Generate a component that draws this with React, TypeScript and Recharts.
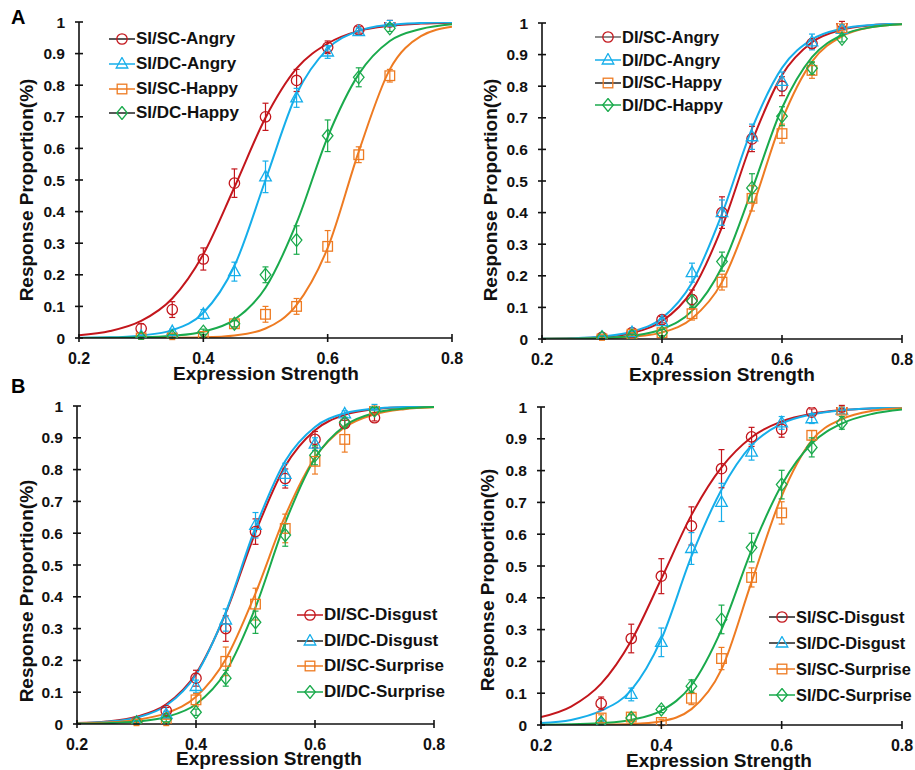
import React from "react";
import {
  ComposedChart,
  Line,
  Scatter,
  ErrorBar,
  XAxis,
  YAxis,
  Legend,
} from "recharts";

// expression strengths where responses were measured, and where the fitted curves were read
const xObs = [0.3, 0.35, 0.4, 0.45, 0.5, 0.55, 0.6, 0.65, 0.7];
const xFit = [0.2, 0.25, 0.3, 0.35, 0.4, 0.45, 0.5, 0.55, 0.6, 0.65, 0.7, 0.75, 0.8];
const yTicks = [0, 0.1, 0.2, 0.3, 0.4, 0.5, 0.6, 0.7, 0.8, 0.9, 1];
const xTicks = [0.2, 0.4, 0.6, 0.8];

// Panel A left: SI, angry / happy
const siScAngry = [0.03, 0.09, 0.25, 0.49, 0.7, 0.815, 0.92, 0.975, 1.0];
const siScAngryErr = [0.015, 0.025, 0.035, 0.045, 0.043, 0.035, 0.02, 0.01, 0.005];
const siScAngryFit = [0.009, 0.022, 0.054, 0.125, 0.265, 0.477, 0.697, 0.853, 0.932, 0.972, 0.988, 0.995, 0.998];
const siDcAngry = [0.005, 0.02, 0.075, 0.21, 0.51, 0.76, 0.905, 0.97, 1.0];
const siDcAngryErr = [0.004, 0.008, 0.015, 0.03, 0.05, 0.03, 0.02, 0.01, 0.005];
const siDcAngryFit = [0.001, 0.002, 0.008, 0.025, 0.08, 0.228, 0.5, 0.772, 0.915, 0.972, 0.991, 0.997, 0.999];
const siScHappy = [0.0, 0.0, 0.005, 0.045, 0.075, 0.1, 0.29, 0.58, 0.83];
const siScHappyErr = [0.004, 0.005, 0.005, 0.01, 0.025, 0.025, 0.05, 0.025, 0.02];
const siScHappyFit = [0.0, 0.0, 0.0002, 0.0006, 0.002, 0.008, 0.03, 0.105, 0.285, 0.59, 0.85, 0.955, 0.985];
const siDcHappy = [0.0, 0.005, 0.02, 0.045, 0.2, 0.31, 0.64, 0.825, 0.98];
const siDcHappyErr = [0.004, 0.005, 0.008, 0.01, 0.025, 0.045, 0.05, 0.03, 0.01];
const siDcHappyFit = [0.0002, 0.0007, 0.002, 0.007, 0.02, 0.058, 0.159, 0.364, 0.636, 0.835, 0.94, 0.978, 0.993];

// Panel A right: DI, angry / happy
const diScAngry = [0.005, 0.02, 0.061, 0.125, 0.4, 0.633, 0.8, 0.935, 1.0];
const diScAngryErr = [0.004, 0.005, 0.01, 0.03, 0.05, 0.04, 0.03, 0.015, 0.005];
const diScAngryFit = [0.0007, 0.002, 0.006, 0.019, 0.056, 0.153, 0.354, 0.625, 0.835, 0.939, 0.979, 0.993, 0.998];
const diDcAngry = [0.005, 0.02, 0.055, 0.21, 0.4, 0.64, 0.815, 0.94, 0.98];
const diDcAngryErr = [0.004, 0.005, 0.01, 0.03, 0.04, 0.04, 0.03, 0.025, 0.01];
const diDcAngryFit = [0.0008, 0.0025, 0.008, 0.023, 0.066, 0.178, 0.396, 0.666, 0.858, 0.948, 0.982, 0.994, 0.998];
const diScHappy = [0.0, 0.015, 0.02, 0.08, 0.18, 0.445, 0.65, 0.85, 0.985];
const diScHappyErr = [0.004, 0.005, 0.01, 0.02, 0.025, 0.04, 0.03, 0.025, 0.01];
const diScHappyFit = [0.0002, 0.0007, 0.002, 0.007, 0.021, 0.065, 0.18, 0.413, 0.693, 0.878, 0.958, 0.987, 0.996];
const diDcHappy = [0.005, 0.01, 0.02, 0.12, 0.245, 0.478, 0.705, 0.857, 0.95];
const diDcHappyErr = [0.004, 0.005, 0.01, 0.02, 0.03, 0.045, 0.03, 0.02, 0.01];
const diDcHappyFit = [0.0004, 0.001, 0.003, 0.01, 0.031, 0.089, 0.228, 0.472, 0.731, 0.892, 0.962, 0.987, 0.996];

// Panel B left: DI, disgust / surprise
const diScDisgust = [0.005, 0.042, 0.144, 0.3, 0.605, 0.772, 0.895, 0.945, 0.963];
const diScDisgustErr = [0.005, 0.01, 0.025, 0.04, 0.04, 0.03, 0.025, 0.01, 0.01];
const diScDisgustFit = [0.003, 0.008, 0.023, 0.062, 0.159, 0.349, 0.603, 0.811, 0.924, 0.972, 0.99, 0.996, 0.999];
const diDcDisgust = [0.005, 0.03, 0.118, 0.327, 0.625, 0.785, 0.88, 0.975, 1.0];
const diDcDisgustErr = [0.005, 0.01, 0.02, 0.035, 0.04, 0.035, 0.02, 0.01, 0.005];
const diDcDisgustFit = [0.0024, 0.007, 0.02, 0.058, 0.155, 0.352, 0.618, 0.827, 0.934, 0.977, 0.992, 0.997, 0.999];
const diScSurprise = [0.0, 0.0, 0.076, 0.197, 0.377, 0.615, 0.826, 0.895, 0.99];
const diScSurpriseErr = [0.005, 0.005, 0.02, 0.045, 0.05, 0.045, 0.04, 0.04, 0.01];
const diScSurpriseFit = [0.0017, 0.0047, 0.013, 0.034, 0.086, 0.204, 0.411, 0.655, 0.838, 0.933, 0.974, 0.99, 0.996];
const diDcSurprise = [0.005, 0.015, 0.037, 0.144, 0.32, 0.594, 0.845, 0.948, 0.986];
const diDcSurpriseErr = [0.005, 0.008, 0.01, 0.025, 0.035, 0.035, 0.03, 0.015, 0.01];
const diDcSurpriseFit = [0.0009, 0.0025, 0.0075, 0.022, 0.062, 0.164, 0.367, 0.633, 0.836, 0.938, 0.978, 0.992, 0.997];

// Panel B right: SI, disgust / surprise
const siScDisgust = [0.068, 0.272, 0.468, 0.626, 0.806, 0.906, 0.93, 0.984, 1.0];
const siScDisgustErr = [0.02, 0.045, 0.055, 0.06, 0.06, 0.03, 0.025, 0.01, 0.005];
const siScDisgustFit = [0.025, 0.058, 0.13, 0.265, 0.46, 0.66, 0.81, 0.905, 0.955, 0.979, 0.99, 0.995, 0.998];
const siDcDisgust = [0.005, 0.096, 0.26, 0.555, 0.7, 0.858, 0.95, 0.963, 0.99];
const siDcDisgustErr = [0.005, 0.02, 0.045, 0.05, 0.06, 0.025, 0.02, 0.015, 0.01];
const siDcDisgustFit = [0.006, 0.016, 0.045, 0.11, 0.27, 0.53, 0.74, 0.88, 0.948, 0.977, 0.99, 0.996, 0.998];
const siScSurprise = [0.022, 0.025, 0.008, 0.084, 0.209, 0.464, 0.667, 0.911, 0.99];
const siScSurpriseErr = [0.01, 0.01, 0.01, 0.02, 0.035, 0.03, 0.035, 0.015, 0.01];
const siScSurpriseFit = [0.0, 0.0, 0.001, 0.003, 0.012, 0.05, 0.175, 0.45, 0.72, 0.895, 0.962, 0.988, 0.996];
const siDcSurprise = [0.008, 0.022, 0.049, 0.122, 0.332, 0.558, 0.756, 0.873, 0.95];
const siDcSurpriseErr = [0.005, 0.01, 0.01, 0.02, 0.045, 0.045, 0.045, 0.03, 0.02];
const siDcSurpriseFit = [0.001, 0.002, 0.006, 0.016, 0.045, 0.125, 0.3, 0.55, 0.755, 0.885, 0.948, 0.978, 0.992];

const RED = "#c3161c";
const BLUE = "#16aeea";
const ORANGE = "#ee7b22";
const GREEN = "#1aaa4c";
const DARK = "#222";
const GRAY = "#666";
const FONT = "'Liberation Sans', Arial, sans-serif";

const obs = (ys: number[], es: number[]) => xObs.map((x, i) => ({ x, y: ys[i], err: es[i] }));
const fit = (ys: number[]) => xFit.map((x, i) => ({ x, y: ys[i] }));

const mk = (name, color, legendLine, shape, ys, es, fs) => ({
  name, color, legendLine, shape, points: obs(ys, es), curve: fit(fs),
});

const Marker = ({ cx, cy, kind, color }: any) => {
  if (cx == null || cy == null) return null;
  const common = { fill: "none", stroke: color, strokeWidth: 1.3 };
  if (kind === "circle") return <circle cx={cx} cy={cy} r={5.2} {...common} />;
  if (kind === "triangle")
    return <polygon points={`${cx},${cy - 6.5} ${cx + 5.8},${cy + 4} ${cx - 5.8},${cy + 4}`} {...common} />;
  if (kind === "square") return <rect x={cx - 4.8} y={cy - 4.8} width={9.6} height={9.6} {...common} />;
  return <polygon points={`${cx},${cy - 6.5} ${cx + 5.3},${cy} ${cx},${cy + 6.5} ${cx - 5.3},${cy}`} {...common} />;
};

const YTick = ({ x, y, payload }: any) => (
  <g>
    <line x1={x + 10} x2={x + 18} y1={y} y2={y} stroke="#111" strokeWidth={1.6} />
    <text x={x} y={y} dy={5.5} textAnchor="end" fontSize={15.5} fontWeight="bold" fontFamily={FONT} fill="#111">
      {payload.value}
    </text>
  </g>
);

const XTick = ({ x, y, payload }: any) => (
  <g>
    <line x1={x} x2={x} y1={y - 19} y2={y - 11} stroke="#111" strokeWidth={1.6} />
    <text x={x} y={y} dy={11} textAnchor="middle" fontSize={16} fontWeight="bold" fontFamily={FONT} fill="#111">
      {payload.value}
    </text>
  </g>
);

const Title = ({ tx, ty, rotate, text }: any) => (
  <text
    x={tx}
    y={ty}
    transform={rotate ? `rotate(-90 ${tx} ${ty})` : undefined}
    textAnchor="middle"
    dominantBaseline={rotate ? "central" : "auto"}
    fontSize={19}
    fontWeight="bold"
    fontFamily={FONT}
    fill="#111"
  >
    {text}
  </text>
);

const LegendBox = ({ series, rowH, fontSize }: any) => (
  <div style={{ fontFamily: FONT, fontWeight: "bold", fontSize, color: "#111", whiteSpace: "nowrap" }}>
    {series.map((s) => (
      <div key={s.name} style={{ display: "flex", alignItems: "center", height: rowH }}>
        <svg width={26} height={14} style={{ marginRight: 1, flexShrink: 0 }}>
          <line x1={0} x2={26} y1={7} y2={7} stroke={s.legendLine} strokeWidth={1.5} />
          <Marker cx={13} cy={7} kind={s.shape} color={s.color} />
        </svg>
        <span>{s.name}</span>
      </div>
    ))}
  </div>
);

const panels = [
  {
    left: 0, top: 0, width: 470, height: 385, margin: { top: 22, right: 18, left: 0, bottom: 0 },
    yw: 79, xh: 47, yTitle: [26, 190], xTitle: [266, 380],
    legend: { left: 109, top: 27, rowH: 24.7, fontSize: 17 },
    series: [
      mk("SI/SC-Angry", RED, DARK, "circle", siScAngry, siScAngryErr, siScAngryFit),
      mk("SI/DC-Angry", BLUE, BLUE, "triangle", siDcAngry, siDcAngryErr, siDcAngryFit),
      mk("SI/SC-Happy", ORANGE, ORANGE, "square", siScHappy, siScHappyErr, siScHappyFit),
      mk("SI/DC-Happy", GREEN, DARK, "diamond", siDcHappy, siDcHappyErr, siDcHappyFit),
    ],
  },
  {
    left: 460, top: 0, width: 455, height: 385, margin: { top: 23, right: 13, left: 0, bottom: 0 },
    yw: 82, xh: 46, yTitle: [30, 190], xTitle: [262, 381],
    legend: { left: 135, top: 26, rowH: 22.7, fontSize: 16.5 },
    series: [
      mk("DI/SC-Angry", RED, GRAY, "circle", diScAngry, diScAngryErr, diScAngryFit),
      mk("DI/DC-Angry", BLUE, BLUE, "triangle", diDcAngry, diDcAngryErr, diDcAngryFit),
      mk("DI/SC-Happy", ORANGE, DARK, "square", diScHappy, diScHappyErr, diScHappyFit),
      mk("DI/DC-Happy", GREEN, GREEN, "diamond", diDcHappy, diDcHappyErr, diDcHappyFit),
    ],
  },
  {
    left: 0, top: 385, width: 460, height: 385, margin: { top: 21, right: 26, left: 0, bottom: 0 },
    yw: 77, xh: 46, yTitle: [26, 206], xTitle: [269, 380],
    legend: { left: 297, top: 217, rowH: 25.7, fontSize: 17 },
    series: [
      mk("DI/SC-Disgust", RED, RED, "circle", diScDisgust, diScDisgustErr, diScDisgustFit),
      mk("DI/DC-Disgust", BLUE, DARK, "triangle", diDcDisgust, diDcDisgustErr, diDcDisgustFit),
      mk("DI/SC-Surprise", ORANGE, ORANGE, "square", diScSurprise, diScSurpriseErr, diScSurpriseFit),
      mk("DI/DC-Surprise", GREEN, GREEN, "diamond", diDcSurprise, diDcSurpriseErr, diDcSurpriseFit),
    ],
  },
  {
    left: 460, top: 385, width: 455, height: 385, margin: { top: 22, right: 13, left: 0, bottom: 0 },
    yw: 81, xh: 45, yTitle: [27, 195], xTitle: [259, 382],
    legend: { left: 309, top: 219, rowH: 26, fontSize: 16.4 },
    series: [
      mk("SI/SC-Disgust", RED, DARK, "circle", siScDisgust, siScDisgustErr, siScDisgustFit),
      mk("SI/DC-Disgust", BLUE, DARK, "triangle", siDcDisgust, siDcDisgustErr, siDcDisgustFit),
      mk("SI/SC-Surprise", ORANGE, ORANGE, "square", siScSurprise, siScSurpriseErr, siScSurpriseFit),
      mk("SI/DC-Surprise", GREEN, GREEN, "diamond", siDcSurprise, siDcSurpriseErr, siDcSurpriseFit),
    ],
  },
];

const Panel = ({ p }: any) => (
  <div style={{ position: "absolute", left: p.left, top: p.top }}>
    <ComposedChart width={p.width} height={p.height} margin={p.margin}>
      <XAxis
        type="number"
        dataKey="x"
        domain={[0.2, 0.8]}
        allowDataOverflow
        ticks={xTicks}
        height={p.xh}
        tickSize={4}
        tickMargin={11}
        tickLine={false}
        tick={<XTick />}
        axisLine={{ stroke: "#111", strokeWidth: 1.6 }}
        label={<Title tx={p.xTitle[0]} ty={p.xTitle[1]} text="Expression Strength" />}
      />
      <YAxis
        type="number"
        dataKey="y"
        domain={[0, 1]}
        allowDataOverflow
        ticks={yTicks}
        width={p.yw}
        tickSize={4}
        tickMargin={10}
        tickLine={false}
        tick={<YTick />}
        axisLine={{ stroke: "#111", strokeWidth: 1.6 }}
        label={<Title tx={p.yTitle[0]} ty={p.yTitle[1]} rotate text="Response Proportion(%)" />}
      />
      <Legend
        layout="vertical"
        align="center"
        verticalAlign="middle"
        wrapperStyle={{ left: p.legend.left, top: p.legend.top, width: 150 }}
        content={() => <LegendBox series={p.series} rowH={p.legend.rowH} fontSize={p.legend.fontSize} />}
      />
      {p.series.map((s) => (
        <Line
          key={s.name + "-fit"}
          data={s.curve}
          dataKey="y"
          type="monotone"
          stroke={s.color}
          strokeWidth={2}
          dot={false}
          activeDot={false}
          legendType="none"
          isAnimationActive={false}
        />
      ))}
      {p.series.map((s) => (
        <Scatter
          key={s.name}
          name={s.name}
          data={s.points}
          isAnimationActive={false}
          shape={(props: any) => <Marker cx={props.cx} cy={props.cy} kind={s.shape} color={s.color} />}
        >
          <ErrorBar dataKey="err" direction="y" width={3} stroke={s.color} strokeWidth={1.2} isAnimationActive={false} />
        </Scatter>
      ))}
    </ComposedChart>
  </div>
);

export default function App() {
  return (
    <div style={{ position: "absolute", left: 0, top: 0, width: 915, height: 770, background: "#fff", overflow: "hidden" }}>
      {panels.map((p, i) => (
        <Panel key={i} p={p} />
      ))}
      <div style={{ position: "absolute", left: 11, top: 6, fontFamily: FONT, fontWeight: "bold", fontSize: 20 }}>A</div>
      <div style={{ position: "absolute", left: 11, top: 375, fontFamily: FONT, fontWeight: "bold", fontSize: 20 }}>B</div>
    </div>
  );
}
